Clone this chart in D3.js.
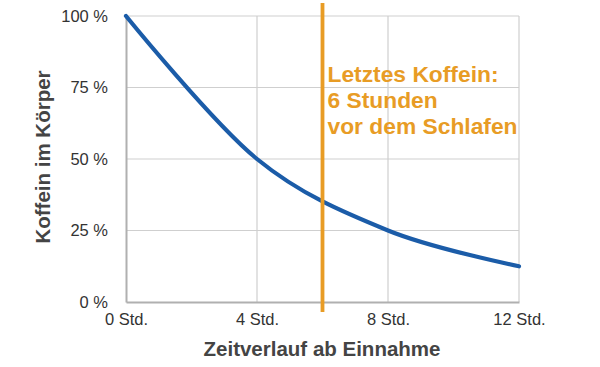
<!DOCTYPE html>
<html><head><meta charset="utf-8">
<script src="https://cdn.jsdelivr.net/npm/d3@7"></script>
<style>body{margin:0;background:#fff}svg{display:block}</style>
</head><body>
<svg id="c" width="600" height="367"></svg>
<script>
const hours = [0,4,8,12];
const caffeine = [100,50,25,12.5];
const xTicks = [0,4,8,12];
const xTickLabels = ["0 Std.","4 Std.","8 Std.","12 Std."];
const yTicks = [0,25,50,75,100];
const yTickLabels = ["0 %","25 %","50 %","75 %","100 %"];
const markerHour = 6;
const annotationLines = ["Letztes Koffein:","6 Stunden","vor dem Schlafen"];
const xTitle = "Zeitverlauf ab Einnahme";
const yTitle = "Koffein im Körper";

const svg = d3.select("#c");
const x = d3.scaleLinear().domain([0,12]).range([126,519]);
const y = d3.scaleLinear().domain([0,100]).range([302,16]);
const font = "'Liberation Sans', Arial, sans-serif";

// gridlines
svg.append("g").selectAll("line").data(yTicks.filter(d=>d>0)).join("line")
  .attr("x1",x(0)).attr("x2",x(12)).attr("y1",d=>y(d)).attr("y2",d=>y(d))
  .attr("stroke","#cfcfcf").attr("stroke-width",1.2);
svg.append("g").selectAll("line").data(xTicks.filter(d=>d>0)).join("line")
  .attr("x1",d=>x(d)).attr("x2",d=>x(d)).attr("y1",y(0)).attr("y2",y(100))
  .attr("stroke","#cfcfcf").attr("stroke-width",1.2);

// axes
const xAxis = d3.axisBottom(x).tickValues(xTicks).tickSize(0).tickFormat((d,i)=>xTickLabels[i]);
const gx = svg.append("g").attr("transform",`translate(0,${y(0)})`).call(xAxis);
gx.select(".domain").attr("stroke","#b0b0b0").attr("stroke-width",2);
gx.selectAll("text").attr("dy",0).attr("y",23).attr("font-family",font).attr("font-size",16.5).attr("fill","#333");

const yAxis = d3.axisLeft(y).tickValues(yTicks).tickSize(0).tickFormat((d,i)=>yTickLabels[i]);
const gy = svg.append("g").attr("transform",`translate(${x(0)},0)`).call(yAxis);
gy.select(".domain").attr("stroke","#b0b0b0").attr("stroke-width",2);
gy.selectAll("text").attr("x",-18).attr("font-family",font).attr("font-size",16.5).attr("fill","#333");

// curve
const line = d3.line().x((d,i)=>x(hours[i])).y(d=>y(d)).curve(d3.curveCardinal.tension(0));
svg.append("path").datum(caffeine).attr("d",line).attr("fill","none")
  .attr("stroke","#1b5ca8").attr("stroke-width",4.2).attr("stroke-linecap","round");

// marker
svg.append("line").attr("x1",x(markerHour)).attr("x2",x(markerHour))
  .attr("y1",3).attr("y2",312).attr("stroke","#e89c25").attr("stroke-width",3.8);

svg.append("g").selectAll("text").data(annotationLines).join("text")
  .attr("x",x(markerHour)+5).attr("y",(d,i)=>82+i*26)
  .attr("font-family",font).attr("font-weight","bold").attr("font-size",22.8)
  .attr("fill","#e89c25").text(d=>d);

// titles
svg.append("text").attr("x",322).attr("y",356).attr("text-anchor","middle")
  .attr("font-family",font).attr("font-weight","bold").attr("font-size",20.5)
  .attr("fill","#444").text(xTitle);
svg.append("text").attr("transform","translate(50,157) rotate(-90)").attr("text-anchor","middle")
  .attr("font-family",font).attr("font-weight","bold").attr("font-size",20.5)
  .attr("fill","#444").text(yTitle);
</script>
</body></html>
